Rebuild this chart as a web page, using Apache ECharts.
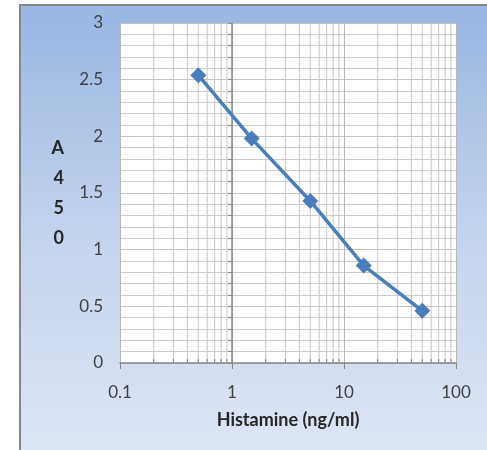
<!DOCTYPE html>
<html><head><meta charset="utf-8">
<script src="https://cdn.jsdelivr.net/npm/echarts@6/dist/echarts.min.js"></script>
<style>
html,body{margin:0;padding:0;background:#fff;}
#wrap{position:relative;width:487px;height:450px;overflow:hidden;}
#bg{position:absolute;left:19px;top:4px;width:480px;height:460px;border-left:2px solid #878787;border-top:2px solid #878787;background:linear-gradient(to bottom,#9ab6e3 0%,#c4d3ec 50%,#dfe7f5 100%);}
#chart{position:absolute;left:0;top:0;width:487px;height:450px;}
</style></head>
<body><div id="wrap"><div id="bg"></div><div id="chart"></div></div>
<script>
const concentrations = [0.5, 1.5, 5, 15, 50];
const absorbance = [2.54, 1.98, 1.43, 0.86, 0.46];
const xTicks = [0.1, 1, 10, 100];
const xMinor = [0.2,0.3,0.4,0.5,0.6,0.7,0.8,0.9,2,3,4,5,6,7,8,9,20,30,40,50,60,70,80,90];
const xTitle = 'Histamine (ng/ml)';
const yTitle = 'A\n4\n5\n0';

const font = 'Lato, "Open Sans", sans-serif';
const chart = echarts.init(document.getElementById('chart'), null, {renderer:'canvas'});
chart.setOption({
  backgroundColor: 'transparent',
  animation: false,
  grid: {left:120, top:23, right:31, bottom:87, show:true, backgroundColor:'#ffffff', borderWidth:0},
  xAxis: {
    type:'log', logBase:10, min:0.1, max:100,
    name: xTitle, nameLocation:'middle', nameGap:48,
    nameTextStyle:{fontFamily:font, fontWeight:'bold', fontSize:18, color:'#262626'},
    axisLine:{show:true, lineStyle:{color:'#868686', width:1.5}},
    axisTick:{show:true, length:6, lineStyle:{color:'#868686'}},
    axisLabel:{fontFamily:font, fontSize:17, color:'#404040', margin:21,
      formatter: v => { const t = xTicks.find(k => Math.abs(k - v)/k < 1e-6); return t === undefined ? '' : String(t); }},
    splitLine:{show:true, lineStyle:{color:'#b8b8b8', width:1}},
    minorTick:{show:false}, minorSplitLine:{show:false}
  },
  yAxis: [{
    type:'value', min:0, max:3, interval:0.5,
    name: yTitle, nameLocation:'middle', nameGap:56, nameRotate:0,
    nameTextStyle:{fontFamily:font, fontWeight:'bold', fontSize:18, color:'#262626', lineHeight:30, padding:[16,0,0,0]},
    axisLine:{show:false}, axisTick:{show:false},
    axisLabel:{fontFamily:font, fontSize:17, color:'#404040', margin:17},
    splitLine:{show:true, lineStyle:{color:'#c4c4c4', width:1}},
    minorTick:{show:false, splitNumber:5},
    minorSplitLine:{show:true, lineStyle:{color:'#cccccc', width:1}}
  },{
    type:'value', min:0, max:3, interval:0.5, position:'left', offset:-112,
    axisLine:{show:true, lineStyle:{color:'#8a8a8a', width:1.5}},
    axisTick:{show:true, length:4, lineStyle:{color:'#8a8a8a'}},
    minorTick:{show:true, splitNumber:5, length:4, lineStyle:{color:'#8a8a8a'}},
    axisLabel:{show:false}, splitLine:{show:false}
  }],
  series: [{
    type:'custom', z:1, silent:true, yAxisIndex:0,
    data: xMinor.map(v => [v, 0]),
    renderItem: (params, api) => {
      const v = api.value(0);
      const p0 = api.coord([v, 0]);
      const p1 = api.coord([v, 3]);
      return {type:'group', children:[
        {type:'line', shape:{x1:p0[0], y1:p0[1], x2:p1[0], y2:p1[1]}, style:{stroke:'#c8c8c8', lineWidth:1}},
        {type:'line', shape:{x1:p0[0], y1:p0[1], x2:p0[0], y2:p0[1]-4}, style:{stroke:'#868686', lineWidth:1}}
      ]};
    }
  },{
    type:'line', z:5, yAxisIndex:0,
    data: concentrations.map((c, i) => [c, absorbance[i]]),
    symbol:'diamond', symbolSize:16,
    lineStyle:{color:'#4a7ebb', width:3.5},
    itemStyle:{color:'#4a7ebb'}
  }]
});
</script></body></html>
